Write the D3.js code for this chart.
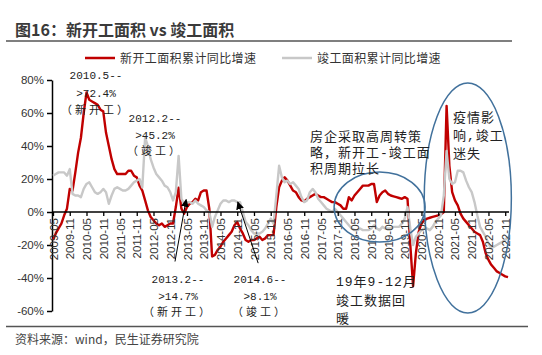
<!DOCTYPE html>
<html><head><meta charset="utf-8">
<script src="https://cdn.jsdelivr.net/npm/d3@7"></script>
<style>body{margin:0;background:#fff;} svg{display:block;}</style>
</head><body>
<svg id="c" width="542" height="355"></svg>
<script>
// ---------- data ----------
const startYear = 2009, startMonth = 5;   // first category: 2009-05
const tickLabels = ["2009-05","2009-11","2010-05","2010-11","2011-05","2011-11","2012-05","2012-11",
  "2013-05","2013-11","2014-05","2014-11","2015-05","2015-11","2016-05","2016-11","2017-05","2017-11",
  "2018-05","2018-11","2019-05","2019-11","2020-05","2020-11","2021-05","2021-11","2022-05","2022-11"];
const yTicks = [80, 60, 40, 20, 0, -20, -40, -60];
const seriesNames = ["新开工面积累计同比增速", "竣工面积累计同比增速"];
// 新开工面积累计同比增速 (%)
const newStarts = [
  -17, -13, -10, -7, -2, 2, 14, 13,                          // 2009-05..12
  24, 36, 45, 60, 72.4, 68, 67, 66, 65, 62, 61, 48,          // 2010
  40, 32, 26, 23, 23, 23, 23, 25, 25, 22, 21, 16,            // 2011
  13, 7, 1, -3, -5, -7, -8, -7, -9, -8, -7, -7,              // 2012
  3, 14.7, 2, -1, 3, 5, 6, 8, 7, 12, 13, 13,                 // 2013
  2, -27, -26, -23, -21, -18, -16, -14, -12, -8, -6, -10,    // 2014
  -13, -17, -18, -17, -17, -16, -15, -17, -16, -14, -14, -14,// 2015
  3, 15, 19, 21, 19, 16, 13, 12, 9, 7, 6.5, 8,               // 2016
  9, 10, 11, 10, 9, 9, 8, 7, 6, 6, 5, 4,                     // 2017
  2, 2, 9, 7, 10, 12, 14, 16, 16, 16, 17, 17,                // 2018
  6, 10, 12, 13, 11, 10, 9.5, 9, 8.5, 8, 9, 8,               // 2019
  -20, -45, -25, -12, -7, -5, -4, -3.5, -3, -2.5, -2, -1.5,  // 2020
  0, 64.3, 28, 12, 7, 4, -1, -4, -6, -8, -10, -12,           // 2021
  -13, -14, -18, -25, -29, -32, -34, -36, -37, -38, -39, -39.5 // 2022
];
// 竣工面积累计同比增速 (%)
const completions = [
  22, 23, 24, 24, 24, 22, 26, 11,                            // 2009-05..12
  10, 10, 9, 14, 17, 18, 15, 12, 11, 12, 14, 12,             // 2010
  5, 10, 14, 15, 14, 13, 13, 14, 16, 18, 19, 20,             // 2011
  15, 45.2, 40, 32, 27, 23, 21, 19, 16, 15, 12, 7,           // 2012
  12, 34, 8, 5, 6, 6, 5, 7, 5, 4, 3, 1,                      // 2013
  0, -9, -3, 1, 5, 7, 7, 6, 7, 7, 6, 6,                      // 2014
  0, -6, -8, -11, -13, -13, -13, -12, -10, -7, -4, -7,       // 2015
  10, 28, 21, 18, 19, 17, 18, 16, 14, 9, 6, 7,               // 2016
  12, 14, 12, 8, 6, 4, 2, 1, 0, 2, 0, -2,                    // 2017
  -4, -6, -8, -10, -11, -11, -10, -11, -11, -11, -10, -8,    // 2018
  -10, -11, -9, -10, -10, -10, -9, -9, -9, -7, -4, 3,        // 2019
  -10, -20, -15, -13, -11, -10, -10, -11, -9, -6, -4, -2,    // 2020
  10, 37, 20, 17, 18, 25, 25, 24, 19, 15, 12, 6,             // 2021
  -2, -9, -12, -15, -19, -22, -21, -20, -19, -18, -17, -15   // 2022
];
const colors = ["#C00000", "#C8C8C8"];

// ---------- chart ----------
const months = d3.range(newStarts.length).map(i => {
  const m = startMonth - 1 + i;
  return `${startYear + Math.floor(m / 12)}-${String(m % 12 + 1).padStart(2, "0")}`;
});
const tickIdx = tickLabels.map(l => months.indexOf(l));

const svg = d3.select("#c");
const x = d3.scaleLinear().domain([0, newStarts.length - 1]).range([53, 508]);
const y = d3.scaleLinear().domain([-60, 80]).range([311, 80]);

const dark = "#333";
// title
svg.append("text").attr("x", 15).attr("y", 36)
  .attr("font-family", "'Noto Sans CJK SC', sans-serif").attr("font-weight", "bold")
  .attr("font-size", 16).attr("fill", "#3a3a3a").text("图16：新开工面积 vs 竣工面积");
svg.append("line").attr("x1", 6).attr("x2", 512).attr("y1", 41).attr("y2", 41)
  .attr("stroke", "#555").attr("stroke-width", 1.6);
// bottom rule & source
svg.append("line").attr("x1", 6).attr("x2", 528).attr("y1", 326.5).attr("y2", 326.5)
  .attr("stroke", "#555").attr("stroke-width", 1.6);
svg.append("text").attr("x", 15).attr("y", 344)
  .attr("font-family", "'Noto Sans CJK SC', sans-serif").attr("font-size", 12)
  .attr("fill", "#444").text("资料来源：wind，民生证券研究院");

// legend
const legX = [85, 282];
seriesNames.forEach((n, k) => {
  svg.append("line").attr("x1", legX[k]).attr("x2", legX[k] + 30).attr("y1", 58).attr("y2", 58)
    .attr("stroke", colors[k]).attr("stroke-width", 2.5);
  svg.append("text").attr("x", legX[k] + 35).attr("y", 62.5)
    .attr("font-family", "'Noto Sans CJK SC', sans-serif").attr("font-size", 12)
    .attr("letter-spacing", 0.4).attr("fill", dark).text(n);
});

// y axis
const yAxis = svg.append("g").attr("transform", "translate(52,0)")
  .call(d3.axisLeft(y).tickValues(yTicks).tickFormat(d => d + "%").tickSize(5).tickSizeOuter(0));
yAxis.select(".domain").attr("stroke", "#000").attr("stroke-width", 1.5);
yAxis.selectAll(".tick line").attr("stroke", "#000").attr("stroke-width", 1.5);
yAxis.selectAll("text").attr("font-family", "'Liberation Sans', Arial, sans-serif")
  .attr("font-size", 11.5).attr("fill", dark).attr("x", -8);

// lines
const line = d3.line().x((d, i) => x(i)).y(d => y(d));
svg.append("path").datum(newStarts).attr("d", line).attr("fill", "none")
  .attr("stroke", colors[0]).attr("stroke-width", 2.4).attr("stroke-linejoin", "round");
svg.append("path").datum(completions).attr("d", line).attr("fill", "none")
  .attr("stroke", colors[1]).attr("stroke-width", 2.4).attr("stroke-linejoin", "round");

// x axis
const xAxis = svg.append("g").attr("transform", `translate(0,${y(0)})`)
  .call(d3.axisBottom(x).tickValues(tickIdx).tickFormat(i => months[i]).tickSize(4).tickSizeOuter(0));
xAxis.select(".domain").attr("d", `M52,0H509`).attr("stroke", "#000").attr("stroke-width", 1.5);
xAxis.selectAll(".tick line").attr("stroke", "#000").attr("stroke-width", 1.3);
xAxis.selectAll("text").attr("font-family", "'Liberation Sans', Arial, sans-serif")
  .attr("font-size", 11.5).attr("fill", dark)
  .attr("transform", "rotate(-90)").attr("x", -6).attr("y", 0).attr("dy", "0.35em")
  .attr("text-anchor", "end");

// ellipses
const ell = [{c: 117, v: 3, di: 16.3, dv: 21.2}, {c: 148.6, v: 8.5, di: 15.6, dv: 69.7}];
ell.forEach(e => {
  svg.append("ellipse").attr("cx", x(e.c)).attr("cy", y(e.v))
    .attr("rx", x(e.c + e.di) - x(e.c)).attr("ry", y(0) - y(e.dv))
    .attr("fill", "none").attr("stroke", "#41719C").attr("stroke-width", 1.5);
});

// arrows
svg.append("defs").append("marker").attr("id", "ah").attr("viewBox", "0 0 10 10")
  .attr("refX", 9).attr("refY", 5).attr("markerWidth", 8).attr("markerHeight", 8)
  .attr("markerUnits", "userSpaceOnUse").attr("orient", "auto")
  .append("path").attr("d", "M0,0L10,5L0,10Z").attr("fill", "#000");
const arrows = [{i0: 43.7, v0: -30, i1: 47.7, v1: 7.5}, {i0: 73.5, v0: -31, i1: 66.2, v1: 6}];
arrows.forEach(a => {
  svg.append("line").attr("x1", x(a.i0)).attr("y1", y(a.v0)).attr("x2", x(a.i1)).attr("y2", y(a.v1))
    .attr("stroke", "#000").attr("stroke-width", 1).attr("marker-end", "url(#ah)");
});

// annotations
const monoCjk = "'Liberation Mono', 'Noto Sans CJK SC', monospace";
function block(lines, cx, y0, lh, size, anchor, ls) {
  lines.forEach((t, k) => {
    const l = Array.isArray(ls) ? ls[k] : (ls || 0);
    svg.append("text").attr("x", cx).attr("y", y0 + k * lh)
      .attr("font-family", monoCjk).attr("font-size", size)
      .attr("letter-spacing", l)
      .attr("text-anchor", anchor).attr("fill", "#222").text(t);
  });
}
block(["2010.5--", ">72.4%", "（新开工）"], 96, 79, 17.5, 11, "middle", [0, 0, 3]);
block(["2012.2--", ">45.2%", "（竣工）"], 155, 122, 16.5, 11, "middle", [0, 0, 3]);
block(["2013.2--", ">14.7%", "（新开工）"], 178, 283, 16.5, 11, "middle", [0, 0, 3]);
block(["2014.6--", ">8.1%", "（竣工）"], 260, 283, 16.5, 11, "middle", [0, 0, 3]);
block(["房企采取高周转策", "略，新开工-竣工面", "积周期拉长"], 310, 141, 16, 13, "start", 1);
block(["疫情影", "响,竣工", "迷失"], 453, 122, 18, 13, "start", 1);
block(["19年9-12月", "竣工数据回", "暖"], 336, 286, 18.5, 13, "start", 1);
</script>
</body></html>
